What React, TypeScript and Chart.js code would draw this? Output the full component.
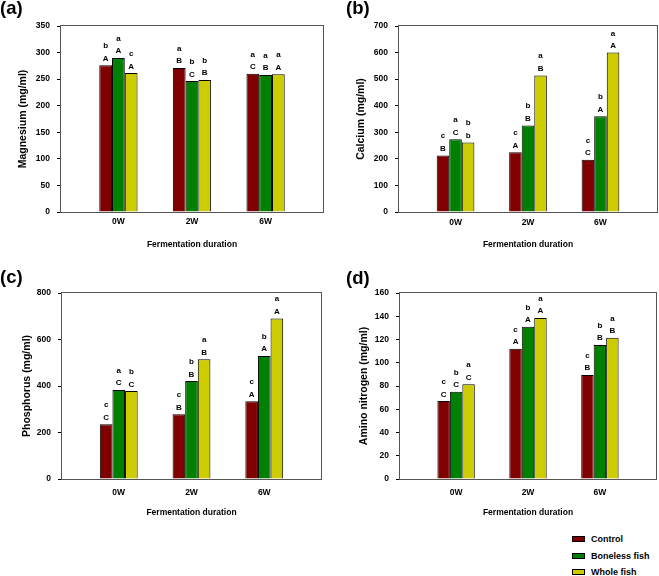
import React, { useEffect, useRef } from 'react';
import { Chart, registerables } from 'chart.js';

Chart.register(...registerables);

const FONT = "'Liberation Sans', Arial, sans-serif";

const categories = ['0W', '2W', '6W'];
const seriesNames = ['Control', 'Boneless fish', 'Whole fish'];
const seriesColors = ['#800000', '#008000', '#CCCC00'];

// (a) Magnesium
const magnesiumControl = [276, 271, 260];
const magnesiumBoneless = [290, 246.5, 258];
const magnesiumWhole = [261.5, 248.5, 259];
const magnesiumUpper = [['A', 'B', 'C'], ['A', 'C', 'B'], ['A', 'B', 'A']];
const magnesiumLower = [['b', 'a', 'a'], ['a', 'b', 'a'], ['c', 'b', 'a']];

// (b) Calcium
const calciumControl = [213, 225, 197];
const calciumBoneless = [273.5, 326, 360];
const calciumWhole = [262, 514, 600];
const calciumUpper = [['B', 'A', 'C'], ['C', 'B', 'A'], ['b', 'B', 'A']];
const calciumLower = [['c', 'c', 'c'], ['a', 'b', 'b'], ['b', 'a', 'a']];

// (c) Phosphorus
const phosphorusControl = [236, 279, 334];
const phosphorusBoneless = [383, 421.5, 529.5];
const phosphorusWhole = [378, 515, 690.5];
const phosphorusUpper = [['C', 'B', 'A'], ['C', 'B', 'A'], ['C', 'B', 'A']];
const phosphorusLower = [['c', 'c', 'c'], ['a', 'b', 'b'], ['b', 'a', 'a']];

// (d) Amino nitrogen
const aminoControl = [67, 112, 89.5];
const aminoBoneless = [75, 131, 115.3];
const aminoWhole = [81.5, 138.5, 121.6];
const aminoUpper = [['C', 'A', 'B'], ['C', 'A', 'B'], ['C', 'A', 'B']];
const aminoLower = [['c', 'c', 'c'], ['b', 'b', 'b'], ['a', 'a', 'a']];

const xTitle = 'Fermentation duration';

type Spec = {
  tag: string;
  yTitle: string;
  yMax: number;
  yStep: number;
  values: number[][];
  upper: string[][];
  lower: string[][];
  left: number;
  top: number;
  w: number;
  h: number;
  padTop: number;
  padRight: number;
  yWidth: number;
  xHeight: number;
  xTickPad: number;
  yTitlePad: number;
  tagLeft: number;
  tagTop: number;
};

const specs: Spec[] = [
  {
    tag: '(a)', yTitle: 'Magnesium (mg/ml)', yMax: 350, yStep: 50,
    values: [magnesiumControl, magnesiumBoneless, magnesiumWhole],
    upper: magnesiumUpper, lower: magnesiumLower,
    left: 0, top: 0, w: 329, h: 250, padTop: 26, padRight: 6, yWidth: 61, xHeight: 38,
    xTickPad: 5, yTitlePad: 16.5, tagLeft: 0, tagTop: -1,
  },
  {
    tag: '(b)', yTitle: 'Calcium (mg/ml)', yMax: 700, yStep: 100,
    values: [calciumControl, calciumBoneless, calciumWhole],
    upper: calciumUpper, lower: calciumLower,
    left: 329, top: 0, w: 330, h: 250, padTop: 26, padRight: 2, yWidth: 70, xHeight: 38,
    xTickPad: 5.5, yTitlePad: 25.5, tagLeft: 346, tagTop: -1,
  },
  {
    tag: '(c)', yTitle: 'Phosphorus (mg/ml)', yMax: 800, yStep: 200,
    values: [phosphorusControl, phosphorusBoneless, phosphorusWhole],
    upper: phosphorusUpper, lower: phosphorusLower,
    left: 0, top: 250, w: 329, h: 268, padTop: 43, padRight: 8, yWidth: 62, xHeight: 39,
    xTickPad: 9, yTitlePad: 20.5, tagLeft: 0, tagTop: 267.5,
  },
  {
    tag: '(d)', yTitle: 'Amino nitrogen (mg/ml)', yMax: 160, yStep: 20,
    values: [aminoControl, aminoBoneless, aminoWhole],
    upper: aminoUpper, lower: aminoLower,
    left: 329, top: 250, w: 330, h: 268, padTop: 43, padRight: 3, yWidth: 71, xHeight: 39,
    xTickPad: 9, yTitlePad: 28.5, tagLeft: 346, tagTop: 269,
  },
];

function Panel({ spec }: { spec: Spec }) {
  const ref = useRef<HTMLCanvasElement>(null);
  useEffect(() => {
    const framePlugin = {
      id: 'frame',
      afterDraw(chart: any) {
        const { ctx, chartArea } = chart;
        ctx.save();
        ctx.strokeStyle = '#555';
        ctx.lineWidth = 1;
        ctx.strokeRect(chartArea.left - 0.5, chartArea.top - 0.5, chartArea.right - chartArea.left + 1, chartArea.bottom - chartArea.top + 1);
        ctx.restore();
      },
    };
    const lettersPlugin = {
      id: 'letters',
      afterDatasetsDraw(chart: any) {
        const ctx = chart.ctx;
        ctx.save();
        ctx.fillStyle = '#000';
        ctx.textAlign = 'center';
        ctx.textBaseline = 'alphabetic';
        ctx.font = `bold 8px ${FONT}`;
        chart.data.datasets.forEach((_: any, di: number) => {
          const meta = chart.getDatasetMeta(di);
          meta.data.forEach((bar: any, i: number) => {
            ctx.fillText(spec.upper[di][i], bar.x, bar.y - 4.5);
            ctx.fillText(spec.lower[di][i], bar.x, bar.y - 17);
          });
        });
        ctx.restore();
      },
    };
    const chart = new Chart(ref.current!, {
      type: 'bar',
      data: {
        datasets: spec.values.map((vals, si) => ({
          label: seriesNames[si],
          data: vals.map((v, i) => ({ x: i, y: v })),
          backgroundColor: seriesColors[si],
          borderColor: '#000',
          borderWidth: 1,
          categoryPercentage: 0.52,
          barPercentage: 1,
        })),
      },
      options: {
        responsive: false,
        animation: false,
        layout: { padding: { top: spec.padTop, right: spec.padRight, left: 0, bottom: 0 } },
        plugins: { legend: { display: false }, tooltip: { enabled: false } },
        scales: {
          x: {
            type: 'linear',
            min: -0.78,
            max: 2.78,
            offset: false,
            afterBuildTicks: (s: any) => {
              s.ticks = categories.map((_, i) => ({ value: i }));
            },
            afterFit: (s: any) => {
              s.height = spec.xHeight;
            },
            grid: { display: false, drawTicks: false, tickLength: 0, offset: false },
            border: { display: false },
            ticks: {
              autoSkip: false,
              maxRotation: 0,
              padding: spec.xTickPad,
              color: '#000',
              font: { family: FONT, size: 8.5, weight: 'bold' },
              callback: (v: any) => categories[v] ?? '',
            },
            title: {
              display: true,
              text: xTitle,
              color: '#000',
              font: { family: FONT, size: 8.5, weight: 'bold' },
              padding: { top: 0, bottom: 0 },
            },
          },
          y: {
            min: 0,
            max: spec.yMax,
            afterFit: (s: any) => {
              s.width = spec.yWidth;
            },
            grid: { drawOnChartArea: false, drawTicks: true, tickLength: 4, color: '#000' },
            border: { display: false },
            ticks: {
              stepSize: spec.yStep,
              padding: 7,
              color: '#000',
              font: { family: FONT, size: 8.5, weight: 'bold' },
            },
            title: {
              display: true,
              text: spec.yTitle,
              color: '#000',
              font: { family: FONT, size: 10.5, weight: 'bold' },
              padding: { top: spec.yTitlePad, bottom: 0 },
            },
          },
        },
      } as any,
      plugins: [framePlugin, lettersPlugin],
    });
    return () => chart.destroy();
  }, [spec]);
  return (
    <canvas
      ref={ref}
      width={spec.w}
      height={spec.h}
      style={{ position: 'absolute', left: spec.left, top: spec.top, width: spec.w, height: spec.h }}
    />
  );
}

const legendRows = [539, 556, 572];

export default function App() {
  return (
    <div
      style={{
        position: 'fixed', left: 0, top: 0, width: 659, height: 576,
        background: '#fff', overflow: 'hidden', fontFamily: FONT,
      }}
    >
      {specs.map((s) => (
        <Panel key={s.tag} spec={s} />
      ))}
      {specs.map((s) => (
        <div
          key={'tag' + s.tag}
          style={{
            position: 'absolute', left: s.tagLeft, top: s.tagTop,
            fontSize: 18.5, fontWeight: 'bold', lineHeight: '18.5px', color: '#000', whiteSpace: 'nowrap',
          }}
        >
          {s.tag}
        </div>
      ))}
      {seriesNames.map((name, i) => (
        <React.Fragment key={name}>
          <div
            style={{
              position: 'absolute', left: 572, top: legendRows[i] - 3, width: 13, height: 6,
              boxSizing: 'border-box', border: '1px solid #000', background: seriesColors[i],
            }}
          />
          <div
            style={{
              position: 'absolute', left: 591, top: legendRows[i] - 6, height: 12, lineHeight: '12px',
              fontSize: 9, fontWeight: 'bold', color: '#000', whiteSpace: 'nowrap',
            }}
          >
            {name}
          </div>
        </React.Fragment>
      ))}
    </div>
  );
}
